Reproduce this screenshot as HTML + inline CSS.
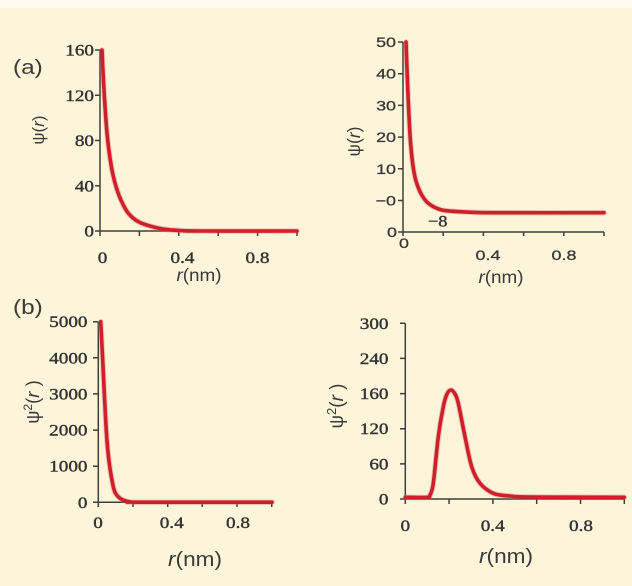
<!DOCTYPE html>
<html>
<head>
<meta charset="utf-8">
<style>
  html,body{margin:0;padding:0;background:#fcf5d9;}
  svg{display:block;}
  .sf{font-family:"Liberation Serif","DejaVu Serif",serif;font-size:16px;fill:#333;stroke:#333;stroke-width:0.4;}
  .ss{font-family:"Liberation Sans","DejaVu Sans",sans-serif;font-size:14px;fill:#383838;stroke:#383838;stroke-width:0.3;}
  .tt{font-family:"Liberation Sans","DejaVu Sans",sans-serif;fill:#3a3a3a;}
  .ax{stroke:#3e3e3e;stroke-width:1.5;fill:none;}
  .cv{stroke:#cf1f2b;stroke-width:3.6;fill:none;stroke-linecap:round;stroke-linejoin:round;}
  .cvg{stroke:#e0606a;stroke-width:5.5;fill:none;opacity:0.35;stroke-linecap:round;stroke-linejoin:round;}
</style>
</head>
<body>
<svg width="632" height="586" viewBox="0 0 632 586" xmlns="http://www.w3.org/2000/svg">
  <rect x="0" y="0" width="632" height="586" fill="#fcf5d9"/>
  <rect x="0" y="0" width="632" height="8" fill="#fdf9ec"/>

  <!-- Panel labels -->
  <text class="tt" font-size="20" transform="translate(13,74) scale(1.22,1)">(a)</text>
  <text class="tt" font-size="20" transform="translate(13,314) scale(1.22,1)">(b)</text>

  <!-- ===== Panel 1 ===== -->
  <path class="ax" d="M100 50 V231 H297"/>
  <path class="ax" d="M95 50 H100 M95 95.25 H100 M95 140.5 H100 M95 185.75 H100 M95 231 H100"/>
  <path class="ax" d="M100 231 V236 M139.4 231 V236 M178.8 231 V236 M218.2 231 V236 M257.6 231 V236 M297 231 V236"/>
  <g class="sf" text-anchor="end">
    <text transform="translate(94,55.5) scale(1.2,1)">160</text>
    <text transform="translate(94,100.75) scale(1.2,1)">120</text>
    <text transform="translate(94,146) scale(1.2,1)">80</text>
    <text transform="translate(94,191.25) scale(1.2,1)">40</text>
    <text transform="translate(94,236.5) scale(1.2,1)">0</text>
  </g>
  <g class="sf" text-anchor="middle">
    <text transform="translate(102.5,263) scale(1.2,1)">0</text>
    <text transform="translate(182.5,263) scale(1.2,1)">0.4</text>
    <text transform="translate(257.5,263) scale(1.2,1)">0.8</text>
  </g>
  <text class="tt" font-size="17.5" text-anchor="middle" transform="translate(199,281) scale(1.08,1)"><tspan font-style="italic">r</tspan>(nm)</text>
  <text class="tt" font-size="17" text-anchor="middle" transform="translate(44,130) rotate(-90)">ψ(<tspan font-style="italic">r</tspan>)</text>
  <path id="c1g" class="cvg" d=""/>
  <path id="c1" class="cv" d=""/>

  <!-- ===== Panel 2 ===== -->
  <path class="ax" d="M403 42 V232 H604"/>
  <path class="ax" d="M398 42 H403 M398 73.7 H403 M398 105.4 H403 M398 137.1 H403 M398 168.8 H403 M398 200.5 H403 M398 232 H403"/>
  <path class="ax" d="M403 232 V236 M443.2 232 V236 M483.4 232 V236 M523.6 232 V236 M563.8 232 V236 M604 232 V236"/>
  <g class="ss" text-anchor="end">
    <text transform="translate(396,47) scale(1.28,1)">50</text>
    <text transform="translate(396,78.7) scale(1.28,1)">40</text>
    <text transform="translate(396,110.4) scale(1.28,1)">30</text>
    <text transform="translate(396,142.1) scale(1.28,1)">20</text>
    <text transform="translate(396,173.8) scale(1.28,1)">10</text>
    <text transform="translate(396,205.5) scale(1.28,1)">−0</text>
    <text transform="translate(397,237) scale(1.28,1)">0</text>
  </g>
  <g class="ss" text-anchor="middle">
    <text transform="translate(404,248) scale(1.28,1)">0</text>
    <text transform="translate(488,260) scale(1.28,1)">0.4</text>
    <text transform="translate(564,260) scale(1.28,1)">0.8</text>
  </g>
  <text class="sf" text-anchor="middle" transform="translate(437.7,226.5) scale(1.15,1)">−8</text>
  <text class="tt" font-size="17.5" text-anchor="middle" transform="translate(501,283) scale(1.08,1)"><tspan font-style="italic">r</tspan>(nm)</text>
  <text class="tt" font-size="17.5" text-anchor="middle" transform="translate(360,141.5) rotate(-90)">ψ(<tspan font-style="italic">r</tspan>)</text>
  <path id="c2g" class="cvg" d=""/>
  <path id="c2" class="cv" d=""/>

  <!-- ===== Panel 3 ===== -->
  <path class="ax" d="M98.3 321.7 V502.3 H271.7"/>
  <path class="ax" d="M93 321.7 H98.3 M93 357.8 H98.3 M93 393.9 H98.3 M93 430.1 H98.3 M93 466.2 H98.3 M93 502.3 H98.3"/>
  <path class="ax" d="M98.3 502.3 V507 M133 502.3 V507 M167.7 502.3 V507 M202.3 502.3 V507 M237 502.3 V507 M271.7 502.3 V507"/>
  <g class="sf" text-anchor="end">
    <text transform="translate(87.5,327.2) scale(1.2,1)">5000</text>
    <text transform="translate(87.5,363.3) scale(1.2,1)">4000</text>
    <text transform="translate(87.5,399.4) scale(1.2,1)">3000</text>
    <text transform="translate(87.5,435.6) scale(1.2,1)">2000</text>
    <text transform="translate(87.5,471.7) scale(1.2,1)">1000</text>
    <text transform="translate(87.5,507.8) scale(1.2,1)">0</text>
  </g>
  <g class="sf" text-anchor="middle">
    <text transform="translate(98,528) scale(1.2,1)">0</text>
    <text transform="translate(171.7,528) scale(1.2,1)">0.4</text>
    <text transform="translate(238,528) scale(1.2,1)">0.8</text>
  </g>
  <text class="tt" font-size="20" text-anchor="middle" transform="translate(195,566) scale(1.13,1)"><tspan font-style="italic">r</tspan>(nm)</text>
  <text class="tt" font-size="18.5" text-anchor="middle" transform="translate(39,402) rotate(-90)">ψ<tspan font-size="12" dy="-7">2</tspan><tspan dy="7">(</tspan><tspan font-style="italic">r</tspan> )</text>
  <path id="c3g" class="cvg" d=""/>
  <path id="c3" class="cv" d=""/>

  <!-- ===== Panel 4 ===== -->
  <path class="ax" d="M405.3 323.3 V499 H624.3"/>
  <path class="ax" d="M400 323.3 H405.3 M400 358.4 H405.3 M400 393.6 H405.3 M400 428.7 H405.3 M400 463.9 H405.3 M400 499 H405.3"/>
  <path class="ax" d="M405.3 499 V504 M449.1 499 V504 M492.9 499 V504 M536.7 499 V504 M580.5 499 V504 M624.3 499 V504"/>
  <g class="sf" text-anchor="end">
    <text transform="translate(388.5,328.8) scale(1.2,1)">300</text>
    <text transform="translate(388.5,363.9) scale(1.2,1)">240</text>
    <text transform="translate(388.5,399.1) scale(1.2,1)">160</text>
    <text transform="translate(388.5,434.2) scale(1.2,1)">120</text>
    <text transform="translate(388.5,469.4) scale(1.2,1)">60</text>
    <text transform="translate(388.5,504.5) scale(1.2,1)">0</text>
  </g>
  <g class="sf" text-anchor="middle">
    <text transform="translate(405.3,531) scale(1.2,1)">0</text>
    <text transform="translate(492.7,531) scale(1.2,1)">0.4</text>
    <text transform="translate(581,531) scale(1.2,1)">0.8</text>
  </g>
  <text class="tt" font-size="20" text-anchor="middle" transform="translate(506,563) scale(1.13,1)"><tspan font-style="italic">r</tspan>(nm)</text>
  <text class="tt" font-size="19" text-anchor="middle" transform="translate(343,406) rotate(-90)">ψ<tspan font-size="13" dy="-7">2</tspan><tspan dy="7">(</tspan><tspan font-style="italic">r</tspan> )</text>
  <path id="c4g" class="cvg" d=""/>
  <path id="c4" class="cv" d=""/>
</svg>
<script>
function cr(pts){
  var d='M'+pts[0][0]+' '+pts[0][1];
  for(var i=0;i<pts.length-1;i++){
    var p0=pts[i-1]||pts[i], p1=pts[i], p2=pts[i+1], p3=pts[i+2]||pts[i+1];
    var c1x=p1[0]+(p2[0]-p0[0])/6, c1y=p1[1]+(p2[1]-p0[1])/6;
    var c2x=p2[0]-(p3[0]-p1[0])/6, c2y=p2[1]-(p3[1]-p1[1])/6;
    d+=' C'+c1x.toFixed(2)+' '+c1y.toFixed(2)+' '+c2x.toFixed(2)+' '+c2y.toFixed(2)+' '+p2[0]+' '+p2[1];
  }
  return d;
}
var P1=[[102,50],[103,72],[104.3,95],[105.8,118],[107.5,138],[110,158],[113,175],[116.5,188],[120.5,199],[126.7,211],[133,218],[140,222.5],[150,226],[163,229],[180,230.5],[200,231],[297,231]];
var P2=[[406,42],[407,70],[408.3,101.7],[410,135],[411.5,153],[413.3,168],[416,181],[420,191.7],[424,198.5],[428.3,203.3],[434,207],[441.7,210],[450,211],[461.7,211.8],[495,212.7],[604,212.7]];
var P3=[[100.7,321.7],[102.7,360],[104.3,393.3],[106.7,436.7],[109.3,463.3],[113.3,486.7],[116,494],[120,498.3],[125,500.7],[130,501.8],[140,502.2],[272,502.2]];
var P4=[[405.3,497.3],[427,497.3],[430,495],[433.3,483.3],[438.3,436.7],[443.3,406.7],[447,394],[451,390],[455,394],[458.3,403.3],[465,436.7],[471.7,466.7],[480,483.3],[493.3,493.3],[510,496],[530,497],[624.3,497.3]];
var map={c1:P1,c2:P2,c3:P3,c4:P4};
for(var k in map){
  var d=cr(map[k]);
  document.getElementById(k).setAttribute('d',d);
  document.getElementById(k+'g').setAttribute('d',d);
}
</script>
</body>
</html>
